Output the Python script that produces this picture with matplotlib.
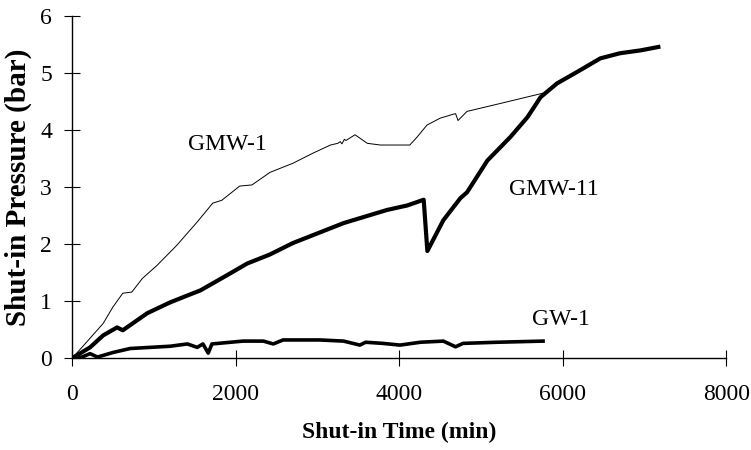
import matplotlib
matplotlib.use('Agg')
import matplotlib.pyplot as plt

# ==========================================
# DATA
# ==========================================
gmw1_t = [0, 120, 380, 500, 620, 730, 860, 1040, 1280, 1530, 1720, 1830, 2050, 2200,
          2420, 2700, 2950, 3160, 3250, 3280, 3300, 3330, 3350, 3460, 3610, 3770,
          4130, 4220, 4340, 4500, 4660, 4690, 4720, 4830, 5240, 5760]
gmw1_p = [0, 0.19, 0.61, 0.9, 1.14, 1.16, 1.4, 1.63, 1.98, 2.39, 2.72, 2.77, 3.02, 3.04,
          3.26, 3.42, 3.6, 3.74, 3.77, 3.8, 3.76, 3.84, 3.82, 3.92, 3.77, 3.74,
          3.74, 3.88, 4.09, 4.21, 4.28, 4.29, 4.17, 4.33, 4.47, 4.65]

gmw11_t = [0, 220, 380, 550, 620, 920, 1200, 1410, 1570, 1900, 2140, 2420, 2700, 3320,
           3850, 4100, 4300, 4345, 4540, 4750, 4830, 5080, 5360, 5570, 5730, 5930,
           6210, 6460, 6700, 6950, 7170]
gmw11_p = [0, 0.19, 0.4, 0.54, 0.49, 0.79, 0.98, 1.1, 1.19, 1.46, 1.66, 1.82, 2.02, 2.37,
           2.6, 2.68, 2.78, 1.88, 2.42, 2.81, 2.91, 3.47, 3.88, 4.23, 4.58, 4.82,
           5.05, 5.26, 5.35, 5.4, 5.46]

gw1_t = [0, 120, 220, 310, 500, 710, 1200, 1410, 1530, 1600, 1665, 1710, 2090, 2340,
         2460, 2580, 3030, 3320, 3520, 3590, 3800, 4010, 4260, 4540, 4690, 4780,
         5200, 5760]
gw1_p = [0, 0.02, 0.08, 0.02, 0.1, 0.17, 0.21, 0.25, 0.19, 0.25, 0.09, 0.25, 0.3, 0.3,
         0.25, 0.32, 0.32, 0.3, 0.23, 0.28, 0.26, 0.23, 0.28, 0.3, 0.2, 0.26,
         0.28, 0.3]

x_ticks = [0, 2000, 4000, 6000, 8000]
y_ticks = [0, 1, 2, 3, 4, 5, 6]

# ==========================================
# FIGURE
# ==========================================
plt.rcParams['font.family'] = ['Liberation Serif', 'DejaVu Serif']
fig = plt.figure(figsize=(7.51, 4.5), dpi=100)
ax = fig.add_axes([0.096, 0.204, 0.871, 0.760])

ax.plot(gmw1_t, gmw1_p, color='black', lw=0.7)
ax.plot(gmw11_t, gmw11_p, color='black', lw=3.0, solid_joinstyle='round')
ax.plot(gw1_t, gw1_p, color='black', lw=2.6, solid_joinstyle='round')

ax.text(1896, 3.75, 'GMW-1', fontsize=17, ha='center', va='center')
ax.text(5896, 2.96, 'GMW-11', fontsize=17, ha='center', va='center')
ax.text(5982, 0.68, 'GW-1', fontsize=17, ha='center', va='center')

ax.set_xlim(0, 8000)
ax.set_ylim(0, 6)
ax.set_xticks(x_ticks)
ax.set_yticks(y_ticks)
ax.tick_params(axis='both', direction='inout', length=11, width=0.8, labelsize=17)
ax.tick_params(axis='x', pad=13)
ax.tick_params(axis='y', pad=9)

for s in ['top', 'right']:
    ax.spines[s].set_visible(False)
for s in ['left', 'bottom']:
    ax.spines[s].set_linewidth(1.0)

ax.set_xlabel('Shut-in Time (min)', fontsize=17, fontweight='bold', labelpad=12)
ax.set_ylabel('Shut-in Pressure (bar)', fontsize=21, fontweight='bold', labelpad=6)

fig.savefig('out.png', dpi=100)
